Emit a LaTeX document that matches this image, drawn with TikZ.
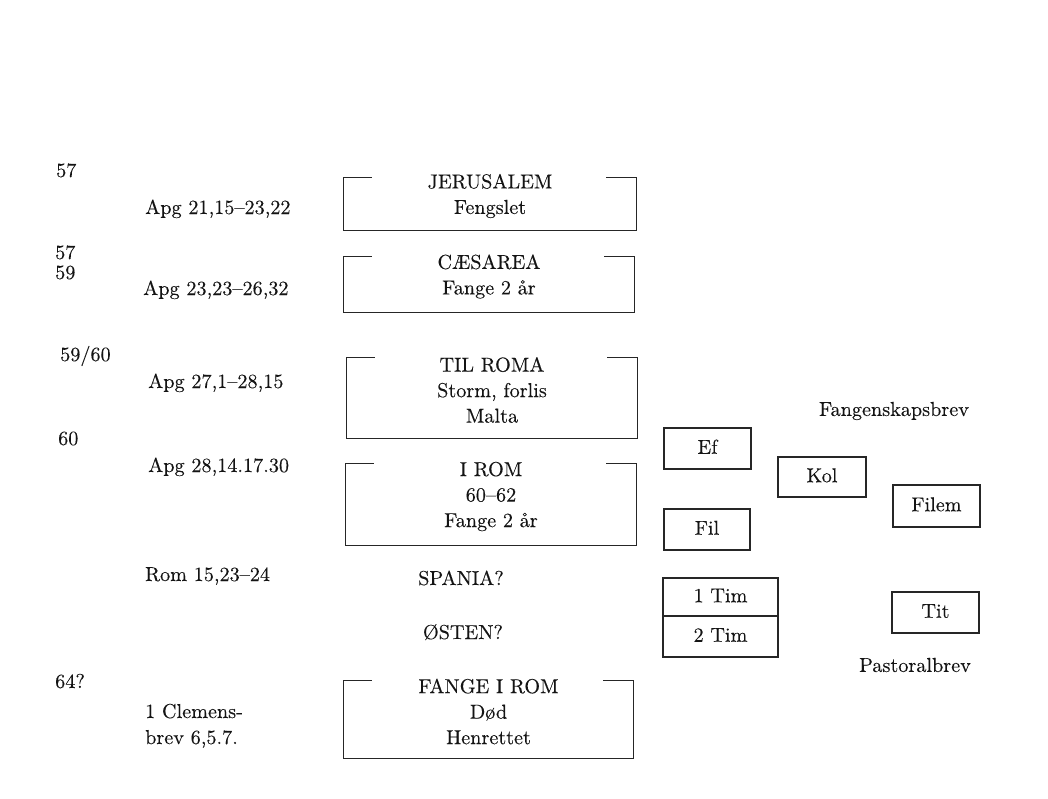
\documentclass[tikz,border=0pt]{standalone}
\usepackage{fontspec}
\setmainfont{lmroman10-regular.otf}[FakeBold=0.15]
\begin{document}
\begin{tikzpicture}[x=1pt,y=-1pt,
  every node/.style={font=\fontsize{20.2}{25.5}\selectfont, inner sep=0pt, text=black!92},
  lbl/.style={anchor=base west},
  ctr/.style={anchor=base},
  area/.style args={#1x#2}{minimum width=#1pt, minimum height=#2pt, draw=none},
  boxtext/.style={align=center, yshift=8pt},
  frameline/.style={draw=black!85, line width=1.1pt},
  letterbox/.style={draw=black!85, line width=1.1pt, text height=14.5pt, text depth=4pt},
  heading/.style={anchor=center}
]
\newcommand\bracketbox[1]{\draw[frameline] ([xshift=28pt]#1.north west) -- (#1.north west) -- (#1.south west) -- (#1.south east) -- (#1.north east) -- ([xshift=-30pt]#1.north east);}
\useasboundingbox (0,0) rectangle (1048,798);

% left column
\node[lbl] (d57a) at (56,177) {57};
\node[lbl] (apg1) at (145,214) {Apg 21,15--23,22};
\node[lbl] (d57b) at (55,259) {57};
\node[lbl] (d59) at (55,279) {59};
\node[lbl] (apg2) at (143,295) {Apg 23,23--26,32};
\node[lbl] (d5960) at (60,361) {59/60};
\node[lbl] (apg3) at (148,388) {Apg 27,1--28,15};
\node[lbl] (d60) at (58,445) {60};
\node[lbl] (apg4) at (148,472) {Apg 28,14.17.30};
\node[lbl] (rom) at (145,581) {Rom 15,23--24};
\node[lbl] (d64) at (55,688) {64?};
\node[lbl] (clem1) at (145,718) {1 Clemens-};
\node[lbl] (clem2) at (145,744) {brev 6,5.7.};

% main column boxes
\node[area=292x52] (jer) at (490,204) {};
\bracketbox{jer}
\node[boxtext] (jert) at (jer.center) {JERUSALEM\\Fengslet};

\node[area=290x55] (cae) at (489,284.5) {};
\bracketbox{cae}
\node[boxtext] (caet) at (cae.center) {CÆSAREA\\Fange 2 år};

\node[area=290x80] (tilr) at (492,398) {};
\bracketbox{tilr}
\node[boxtext] (tilrt) at (tilr.center) {TIL ROMA\\Storm, forlis\\Malta};

\node[area=290x81] (irom) at (491,504.5) {};
\bracketbox{irom}
\node[boxtext] (iromt) at (irom.center) {I ROM\\60--62\\Fange 2 år};

\node[ctr] (spania) at (461,585) {SPANIA?};
\node[ctr] (osten) at (463,639) {ØSTEN?};

\node[area=289x77] (from) at (488.5,719.5) {};
\bracketbox{from}
\node[boxtext] (fromt) at (from.center) {FANGE I ROM\\Død\\Henrettet};

% letters
\node[heading] (fang) at (894,411) {Fangenskapsbrev};
\node[letterbox, minimum width=87pt, minimum height=41pt] (ef) at (707.5,448.5) {Ef};
\node[letterbox, minimum width=88pt, minimum height=40pt] (kol) at (822,477) {Kol};
\node[letterbox, minimum width=87pt, minimum height=42pt] (filem) at (936.5,506) {Filem};
\node[letterbox, minimum width=86pt, minimum height=41pt] (fil) at (707,529.5) {Fil};
\node[letterbox, minimum width=115pt, minimum height=38pt] (tim1) at (720.5,597) {1 Tim};
\node[letterbox, minimum width=115pt, minimum height=41pt] (tim2) at (720.5,636.5) {2 Tim};
\node[letterbox, minimum width=87pt, minimum height=41pt] (tit) at (935.5,612.5) {Tit};
\node[heading] (past) at (915,665) {Pastoralbrev};
\end{tikzpicture}
\end{document}
